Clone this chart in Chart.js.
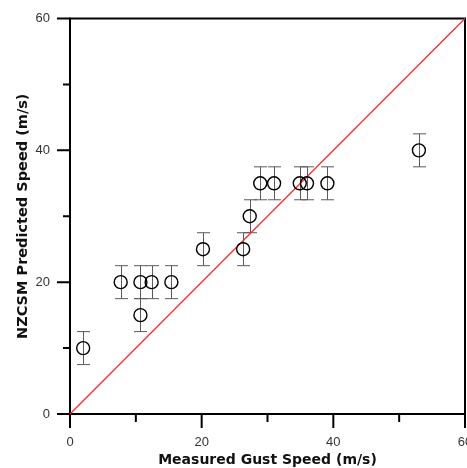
<!DOCTYPE html>
<html>
<head>
<meta charset="utf-8">
<script src="https://cdn.jsdelivr.net/npm/chart.js@4.4.0/dist/chart.umd.min.js"></script>
<style>
html,body{margin:0;padding:0;background:#fff;}
canvas{display:block;}
</style>
</head>
<body>
<canvas id="c" width="467" height="468"></canvas>
<script>
// Data
const measured  = [2.0, 7.7, 10.7, 12.4, 15.4, 10.7, 20.2, 26.3, 27.3, 28.9, 31.0, 34.9, 36.0, 39.1, 53.0];
const predicted = [10, 20, 20, 20, 20, 15, 25, 25, 30, 35, 35, 35, 35, 35, 40];
const errors    = [2.5, 2.5, 2.5, 2.5, 2.5, 2.5, 2.5, 2.5, 2.5, 2.5, 2.5, 2.5, 2.5, 2.5, 2.5];
const lineX = [0, 60];
const lineY = [0, 60];
const majorTicks = [0, 20, 40, 60];
const minorTicks = [10, 30, 50];
const xTitle = 'Measured Gust Speed (m/s)';
const yTitle = 'NZCSM Predicted Speed (m/s)';

const FONT = '"Liberation Sans", Arial, Helvetica, sans-serif';
const TFONT = '"DejaVu Sans", "Liberation Sans", Arial, sans-serif';

const noPad = () => ({left: 0, right: 0, top: 0, bottom: 0});

const framePlugin = {
  id: 'frame',
  beforeDatasetsDraw(chart) {
    const ctx = chart.ctx;
    const xs = chart.scales.x, ys = chart.scales.y;
    const ca = chart.chartArea;
    ctx.save();
    // error bars
    ctx.strokeStyle = '#5a5a5a';
    ctx.lineWidth = 1;
    for (let i = 0; i < measured.length; i++) {
      const px = Math.round(xs.getPixelForValue(measured[i])) + 0.5;
      const yt = ys.getPixelForValue(predicted[i] + errors[i]);
      const yb = ys.getPixelForValue(predicted[i] - errors[i]);
      ctx.beginPath();
      ctx.moveTo(px, yt); ctx.lineTo(px, yb);
      ctx.moveTo(px - 6.5, yt); ctx.lineTo(px + 6.5, yt);
      ctx.moveTo(px - 6.5, yb); ctx.lineTo(px + 6.5, yb);
      ctx.stroke();
    }
    // frame
    ctx.strokeStyle = '#000';
    ctx.lineWidth = 2;
    ctx.strokeRect(ca.left, ca.top, ca.right - ca.left, ca.bottom - ca.top);
    ctx.beginPath();
    majorTicks.forEach(v => {
      const y = ys.getPixelForValue(v);
      ctx.moveTo(ca.left - 13, y); ctx.lineTo(ca.left, y);
      const x = xs.getPixelForValue(v);
      ctx.moveTo(x, ca.bottom); ctx.lineTo(x, ca.bottom + 14);
    });
    minorTicks.forEach(v => {
      const y = ys.getPixelForValue(v);
      ctx.moveTo(ca.left - 7, y); ctx.lineTo(ca.left, y);
      const x = xs.getPixelForValue(v);
      ctx.moveTo(x, ca.bottom); ctx.lineTo(x, ca.bottom + 8);
    });
    ctx.stroke();
    ctx.restore();
  }
};

new Chart(document.getElementById('c'), {
  type: 'scatter',
  data: {
    datasets: [
      {
        type: 'line',
        data: lineX.map((x, i) => ({x: x, y: lineY[i]})),
        borderColor: '#ff2a2a',
        borderWidth: 1.3,
        pointRadius: 0,
        fill: false,
        clip: false,
        order: 2
      },
      {
        data: measured.map((x, i) => ({x: x, y: predicted[i]})),
        pointStyle: 'circle',
        pointRadius: 6.5,
        pointBorderWidth: 1.4,
        pointBorderColor: '#000',
        pointBackgroundColor: 'rgba(0,0,0,0)',
        borderColor: '#000',
        backgroundColor: 'rgba(0,0,0,0)',
        order: 1
      }
    ]
  },
  options: {
    responsive: false,
    animation: false,
    devicePixelRatio: 1,
    layout: { autoPadding: false, padding: { top: 18.5, right: 2, left: 0, bottom: 0 } },
    plugins: { legend: { display: false }, tooltip: { enabled: false } },
    scales: {
      x: {
        type: 'linear', min: 0, max: 60,
        afterBuildTicks: s => { s.ticks = majorTicks.map(v => ({value: v})); },
        afterFit: s => { s.height = 54; s.paddingLeft = 0; s.paddingRight = 0; s.getPadding = noPad; },
        grid: { display: false, drawTicks: false },
        border: { display: false },
        ticks: { padding: 21, color: '#333', font: { family: FONT, size: 13 }, maxRotation: 0, autoSkip: false },
        title: { display: true, text: xTitle, color: '#111', font: { family: TFONT, size: 14, weight: 'bold', lineHeight: 1 }, padding: { top: 0, bottom: 1 } }
      },
      y: {
        type: 'linear', min: 0, max: 60,
        afterBuildTicks: s => { s.ticks = majorTicks.map(v => ({value: v})); },
        afterFit: s => { s.width = 70; s.paddingTop = 0; s.paddingBottom = 0; s.getPadding = noPad; },
        grid: { display: false, drawTicks: false },
        border: { display: false },
        ticks: { padding: 20, color: '#333', font: { family: FONT, size: 13 }, autoSkip: false },
        title: { display: true, text: yTitle, color: '#111', font: { family: TFONT, size: 14.5, weight: 'bold', lineHeight: 1 }, padding: { top: 16, bottom: 0 } }
      }
    }
  },
  plugins: [framePlugin]
});
</script>
</body>
</html>
